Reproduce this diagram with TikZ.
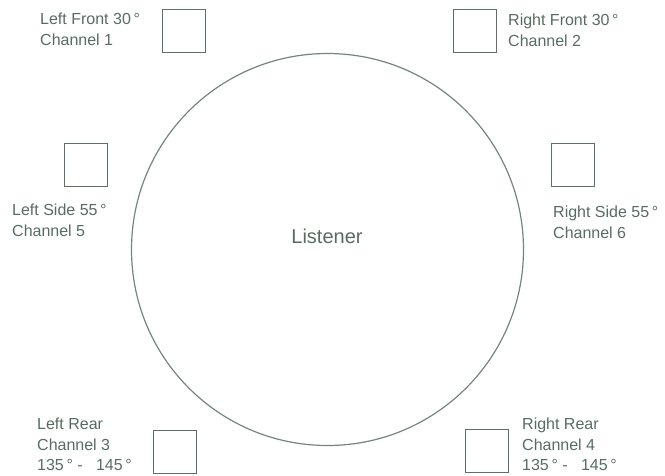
\documentclass[tikz,border=0pt]{standalone}
\usepackage{fontspec}
\setmainfont{Liberation Sans}
\usepackage{tikz}
\usetikzlibrary{positioning}
\definecolor{txtgreen}{RGB}{88,108,98}
\definecolor{boxgreen}{RGB}{94,112,98}
\definecolor{ringgray}{RGB}{118,132,126}
\begin{document}
\begin{tikzpicture}[x=1pt, y=-1pt,
    spk/.style={draw=boxgreen, line width=1.4pt, minimum size=43pt, inner sep=0pt},
    lbl/.style={text=txtgreen, font=\fontsize{16}{20.5}\selectfont, align=left, anchor=north west, inner sep=0pt}]
    \useasboundingbox (0,0) rectangle (665,475);
    % listener
    \draw[ringgray, line width=1.2pt] (327.5,249.5) circle (196);
    \node[text=txtgreen, font=\fontsize{20}{24}\selectfont, anchor=base] (listener) at (327,243) {Listener};
    % speakers
    \foreach \n/\x/\y in {lf/184/31, rf/475/31, ls/86/165, rs/573/165, lr/175/452, rr/487/451}{
        \node[spk] (\n) at (\x,\y) {};
    }
    \node[lbl] (lflbl) at (40,13) {Left Front 30\,°\\Channel 1};
    \node[lbl] (rflbl) at (508,14) {Right Front 30\,°\\Channel 2};
    \node[lbl] (lslbl) at (12,204) {Left Side 55\,°\\Channel 5};
    \node[lbl] (rslbl) at (553,206) {Right Side 55\,°\\Channel 6};
    \node[lbl] (lrlbl) at (37,418) {Left Rear\\Channel 3\\135\,°~-~~~145\,°};
    \node[lbl] (rrlbl) at (522,418) {Right Rear\\Channel 4\\135\,°~-~~~145\,°};
\end{tikzpicture}
\end{document}
